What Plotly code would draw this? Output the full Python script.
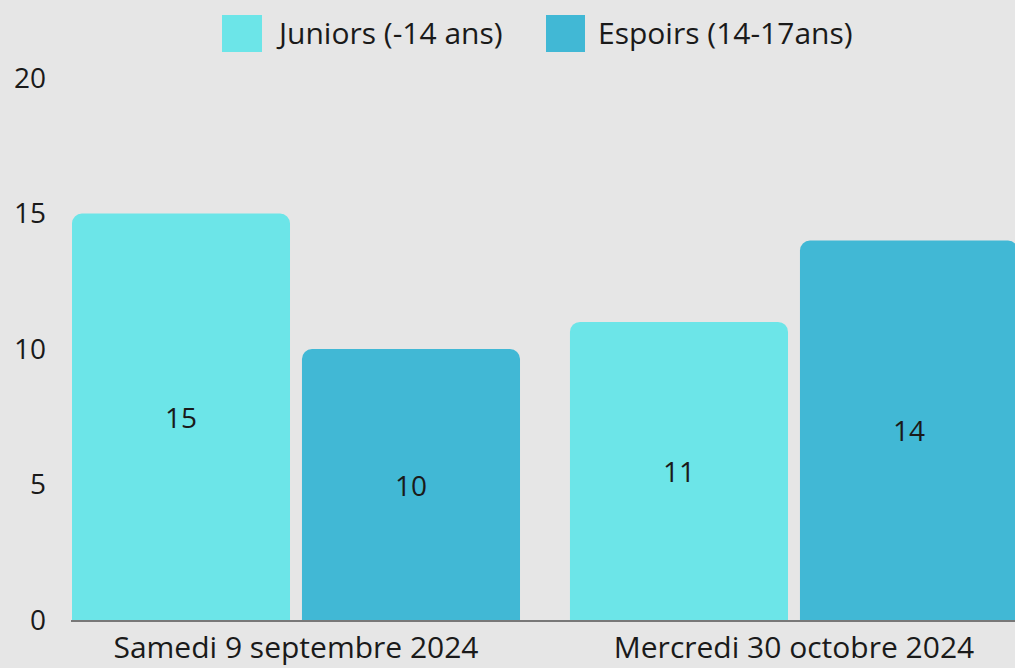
import plotly.graph_objects as go

categories = ["Samedi 9 septembre 2024", "Mercredi 30 octobre 2024"]
series_names = ["Juniors (-14 ans)", "Espoirs (14-17ans)"]
juniors = [15, 11]
espoirs = [10, 14]
colors = ["#6ce5e8", "#41b8d5"]
y_ticks = [0, 5, 10, 15, 20]

W, H = 1015, 668
ml, mr, mt, mb = 71, 0, 78, 48
pw, ph = W - ml - mr, H - mt - mb

FONT = "Open Sans"
TXT = "#1a1a1a"

fig = go.Figure()
for name, vals, col in zip(series_names, [juniors, espoirs], colors):
    fig.add_trace(go.Bar(
        x=categories, y=vals, name=name, marker=dict(color=col, line=dict(width=0)),
        text=[str(v) for v in vals], textposition="inside", insidetextanchor="middle",
        textfont=dict(family=FONT, size=28, color=TXT), textangle=0,
        showlegend=False, hoverinfo="skip",
    ))

# custom legend (large swatches)
def px_x(p):
    return (p - ml) / pw

def px_y(p):
    return (mt + ph - p) / ph

legend_items = [(222, 262, 274), (546, 585, 596)]
shapes = []
annotations = []
for (x0, x1, tx), name, col in zip(legend_items, series_names, colors):
    shapes.append(dict(type="rect", xref="paper", yref="paper",
                       x0=px_x(x0), x1=px_x(x1), y0=px_y(52), y1=px_y(15),
                       fillcolor=col, line=dict(width=0), layer="above"))
    annotations.append(dict(xref="paper", yref="paper", x=px_x(tx), y=px_y(33),
                            xanchor="left", yanchor="middle", text=name, showarrow=False,
                            font=dict(family=FONT, size=30, color=TXT)))

fig.update_layout(
    width=W, height=H,
    margin=dict(l=ml, r=mr, t=mt, b=mb, pad=0, autoexpand=False),
    paper_bgcolor="#e6e6e6", plot_bgcolor="#e6e6e6",
    barmode="group", bargap=0.0763, bargroupgap=0.052, barcornerradius=10,
    shapes=shapes, annotations=annotations,
    font=dict(family=FONT, color=TXT),
    uniformtext=dict(mode=False),
)
fig.update_xaxes(
    type="category", range=[-0.4518, 1.4438], showgrid=False, zeroline=False,
    showline=True, linecolor="rgba(0,0,0,0.48)", linewidth=2, automargin=False,
    ticks="", tickfont=dict(family=FONT, size=30, color=TXT), ticklabelstandoff=0,
)
fig.update_yaxes(
    range=[0, 20], tickvals=y_ticks, ticktext=[str(v) for v in y_ticks],
    showgrid=False, zeroline=False, showline=False, ticks="", automargin=False,
    tickfont=dict(family=FONT, size=28, color=TXT), ticklabelstandoff=24,
)

fig.write_html("out.html")
